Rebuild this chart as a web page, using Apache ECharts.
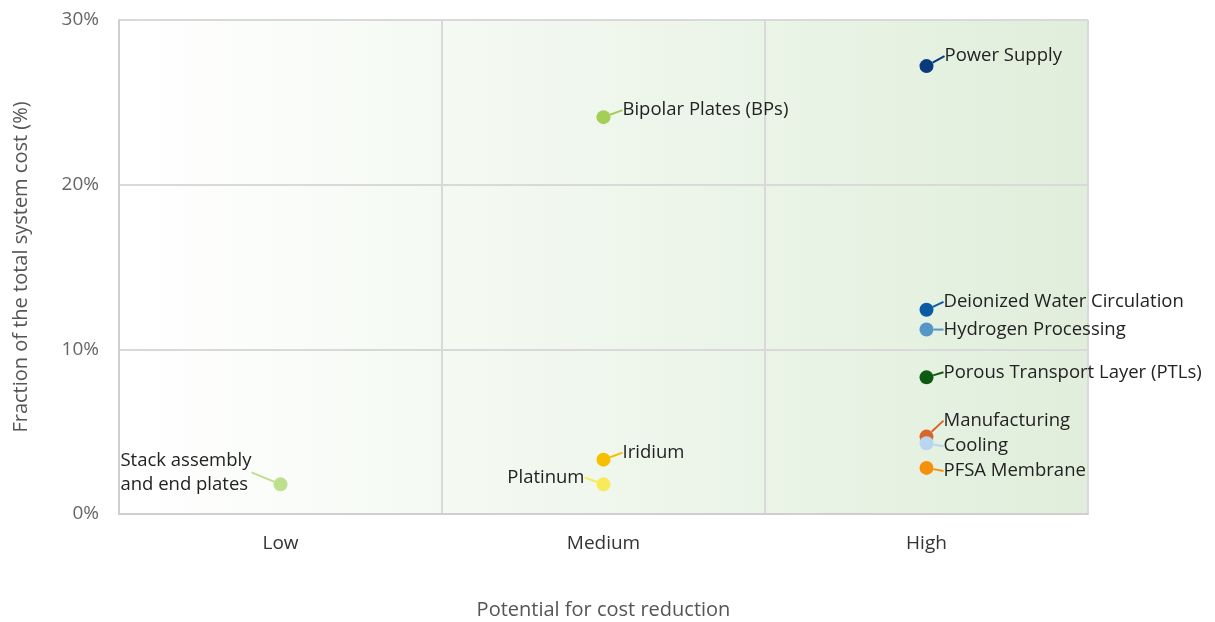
<!DOCTYPE html>
<html>
<head>
<meta charset="utf-8">
<script src="https://cdn.jsdelivr.net/npm/echarts@6/dist/echarts.min.js"></script>
<style>
html,body{margin:0;padding:0;background:#fff;}
#chart{width:1215px;height:622px;}
</style>
</head>
<body>
<div id="chart"></div>
<script>
// ---- data ----
var categories = ['Low', 'Medium', 'High'];
var itemNames = ['Power Supply', 'Bipolar Plates (BPs)', 'Deionized Water Circulation', 'Hydrogen Processing',
  'Porous Transport Layer (PTLs)', 'Manufacturing', 'Cooling', 'PFSA Membrane', 'Iridium', 'Platinum',
  'Stack assembly\nand end plates'];
var itemCategory = ['High', 'Medium', 'High', 'High', 'High', 'High', 'High', 'High', 'Medium', 'Medium', 'Low'];
var itemShare = [27.2, 24.1, 12.4, 11.2, 8.3, 4.7, 4.3, 2.8, 3.3, 1.8, 1.8];
var yTicks = [0, 10, 20, 30];

// ---- styles ----
var itemColors = ['#0a3a7c', '#a3cf55', '#0b5aa5', '#5597c6', '#0f5a12', '#d8662b', '#b9d5ef', '#f7900c', '#f6c000', '#f9ea5c', '#bedf8d'];
var labelOffsets = [
  {pos: 'right', dx: 6, dy: -10},
  {pos: 'right', dx: 7, dy: -7},
  {pos: 'right', dx: 5, dy: -8},
  {pos: 'right', dx: 5, dy: 0},
  {pos: 'right', dx: 5, dy: -5},
  {pos: 'right', dx: 5, dy: -16},
  {pos: 'right', dx: 5, dy: 3},
  {pos: 'right', dx: 5, dy: 3},
  {pos: 'right', dx: 7, dy: -7},
  {pos: 'left', dx: -7, dy: -7},
  {pos: 'left', dx: -17, dy: -12}
];

var FONT = '"Open Sans", "DejaVu Sans", sans-serif';
var data = itemNames.map(function (n, i) {
  return {
    name: n,
    value: [itemCategory[i], itemShare[i]],
    itemStyle: {color: itemColors[i], opacity: 1},
    label: {position: labelOffsets[i].pos},
    labelLine: {lineStyle: {color: itemColors[i], width: 2}}
  };
});

var chart = echarts.init(document.getElementById('chart'));
chart.setOption({
  animation: false,
  grid: {
    left: 119, right: 127, top: 20, bottom: 108,
    outerBoundsMode: 'none',
    containLabel: false,
    show: true,
    borderWidth: 0,
    backgroundColor: new echarts.graphic.LinearGradient(0, 0, 1, 0, [
      {offset: 0, color: '#ffffff'},
      {offset: 1, color: '#e0eedb'}
    ])
  },
  xAxis: {
    type: 'category',
    data: categories,
    boundaryGap: true,
    name: 'Potential for cost reduction',
    nameLocation: 'middle',
    nameGap: 86,
    nameTextStyle: {fontFamily: FONT, fontSize: 20, color: '#555'},
    axisLine: {show: true, lineStyle: {color: '#cfcfcf', width: 2}},
    axisTick: {show: false},
    axisLabel: {fontFamily: FONT, fontSize: 19, color: '#333', margin: 20},
    splitLine: {show: true, lineStyle: {color: '#d9d9d9', width: 2}}
  },
  yAxis: {
    type: 'value',
    min: yTicks[0],
    max: yTicks[yTicks.length - 1],
    interval: yTicks[1] - yTicks[0],
    name: 'Fraction of the total system cost (%)',
    nameLocation: 'middle',
    nameGap: 88,
    nameTextStyle: {fontFamily: FONT, fontSize: 20, color: '#555'},
    axisLine: {show: true, lineStyle: {color: '#cfcfcf', width: 2}},
    axisTick: {show: false},
    axisLabel: {fontFamily: FONT, fontSize: 19, color: '#666', margin: 20, formatter: '{value}%'},
    splitLine: {show: true, lineStyle: {color: '#d9d9d9', width: 2}}
  },
  series: [{
    type: 'scatter',
    symbolSize: 14,
    data: data,
    label: {
      show: true,
      formatter: '{b}',
      fontFamily: FONT,
      fontSize: 18.5,
      color: '#222',
      lineHeight: 24,
      distance: 5
    },
    labelLine: {show: true, smooth: false},
    labelLayout: function (params) {
      var o = labelOffsets[params.dataIndex];
      var r = {dx: o.dx, dy: o.dy};
      if (params.dataIndex === itemNames.length - 1) {
        r.align = 'left';
        r.dx = o.dx - params.labelRect.width;
      }
      return r;
    }
  }]
});
</script>
</body>
</html>
